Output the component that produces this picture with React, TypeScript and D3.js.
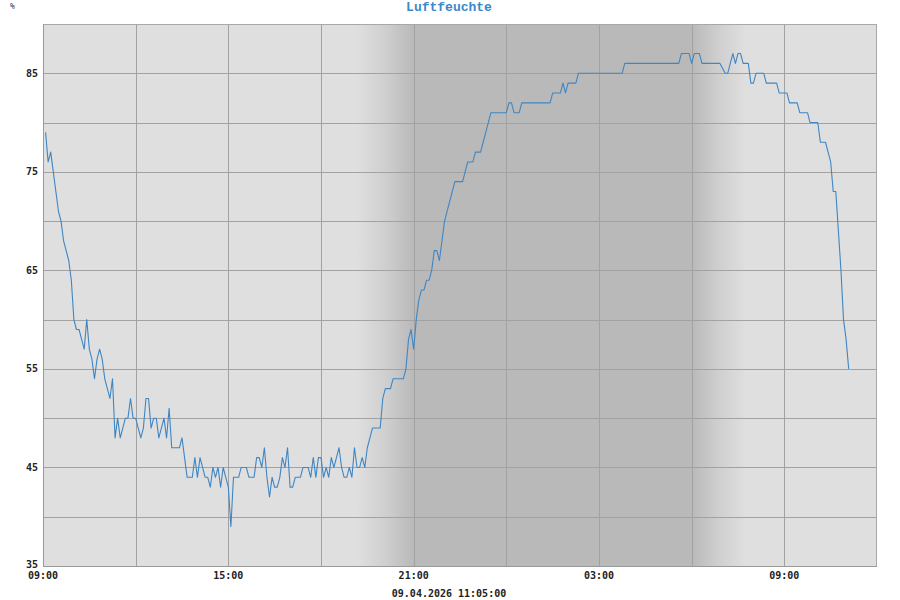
import React from 'react';
import * as d3 from 'd3';

// ---- data ----
const startTime = new Date(2026, 3, 8, 9, 0);
const endTime = new Date(2026, 3, 9, 12, 0);
const minutesAfterStart = [
  5, 10, 15, 20, 25, 30, 35, 40, 45, 50, 55, 60, 65, 70, 75, 80, 85, 90, 95, 100,
  105, 110, 115, 120, 125, 130, 135, 140, 145, 150, 155, 160, 165, 170, 175, 180, 185, 190, 195, 200,
  205, 210, 215, 220, 225, 230, 235, 240, 245, 250, 265, 270, 275, 280, 290, 295, 300, 305, 310, 315,
  320, 325, 330, 335, 340, 345, 350, 355, 360, 365, 370, 380, 385, 395, 400, 410, 415, 420, 425, 430,
  435, 440, 445, 450, 455, 460, 465, 470, 475, 480, 485, 490, 500, 505, 515, 520, 525, 530, 535, 540,
  545, 550, 555, 560, 565, 570, 575, 580, 585, 590, 595, 600, 605, 610, 615, 620, 625, 630, 635, 640,
  655, 660, 665, 675, 680, 700, 705, 710, 715, 720, 725, 730, 735, 740, 745, 750, 755, 760, 765, 770,
  775, 780, 785, 790, 795, 800, 815, 820, 825, 835, 840, 850, 855, 860, 865, 870, 900, 905, 910, 915,
  925, 930, 985, 990, 1005, 1010, 1015, 1020, 1035, 1040, 1125, 1130, 1235, 1240, 1255, 1260, 1265, 1275, 1280, 1315,
  1325, 1330, 1335, 1340, 1345, 1350, 1355, 1360, 1370, 1375, 1380, 1385, 1400, 1405, 1425, 1430, 1445, 1450, 1465, 1470,
  1485, 1490, 1505, 1510, 1520, 1525, 1530, 1535, 1540, 1545, 1550, 1555, 1560, 1565,
];
const humidity = [
  79, 76, 77, 75, 73, 71, 70, 68, 67, 66, 64, 60, 59, 59, 58, 57, 60, 57, 56, 54,
  56, 57, 56, 54, 53, 52, 54, 48, 50, 48, 49, 50, 50, 52, 50, 50, 49, 48, 49, 52,
  52, 49, 50, 50, 48, 49, 50, 48, 51, 47, 47, 48, 46, 44, 44, 46, 44, 46, 45, 44,
  44, 43, 45, 44, 45, 43, 45, 44, 43, 39, 44, 44, 45, 45, 44, 44, 46, 46, 45, 47,
  44, 42, 44, 43, 43, 44, 46, 45, 47, 43, 43, 44, 44, 45, 45, 44, 46, 44, 46, 46,
  44, 45, 44, 46, 45, 46, 47, 45, 44, 44, 45, 44, 47, 45, 45, 46, 45, 47, 48, 49,
  49, 52, 53, 53, 54, 54, 55, 58, 59, 57, 60, 62, 63, 63, 64, 64, 65, 67, 67, 66,
  68, 70, 71, 72, 73, 74, 74, 75, 76, 76, 77, 77, 78, 79, 80, 81, 81, 82, 82, 81,
  81, 82, 82, 83, 83, 84, 83, 84, 84, 85, 85, 86, 86, 87, 87, 86, 87, 87, 86, 86,
  85, 85, 86, 87, 86, 87, 87, 86, 86, 84, 84, 85, 85, 84, 84, 83, 83, 82, 82, 81,
  81, 80, 80, 78, 78, 77, 76, 73, 73, 69, 65, 60, 58, 55,
];
const yDomain = [35, 90];
const yLabelValues = [35, 45, 55, 65, 75, 85];
const yGridValues = [40, 45, 50, 55, 60, 65, 70, 75, 80, 85, 90];
const xGridHours = [3, 6, 9, 12, 15, 18, 21, 24];
const xLabelHours = [0, 6, 12, 18, 24];
// dusk fade start, full dark, dark end, dawn fade end (minutes after start)
const nightMinutes = [610, 720, 1260, 1365];
const titleText = 'Luftfeuchte';
const unitText = '%';
const footerText = '09.04.2026 11:05:00';

export default function App() {
  const W = 900, H = 600;
  const left = 43, right = 877, top = 24, bottom = 566;
  const x = d3.scaleTime().domain([startTime, endTime]).range([left, right]);
  const y = d3.scaleLinear().domain(yDomain).range([bottom, top]);
  const t = (m: number) => d3.timeMinute.offset(startTime, m);
  const data = minutesAfterStart.map((m, i) => ({ d: t(m), v: humidity[i] }));
  const line = d3.line<{ d: Date; v: number }>().x(p => x(p.d)).y(p => y(p.v));
  const fmt = d3.timeFormat('%H:%M');
  const n0 = x(t(nightMinutes[0])), n1 = x(t(nightMinutes[1])), n2 = x(t(nightMinutes[2])), n3 = x(t(nightMinutes[3]));
  const span = n3 - n0;
  const light = '#dfdfdf', dark = '#b9b9b9';
  const mono = "'DejaVu Sans Mono', 'Liberation Mono', monospace";
  return (
    <svg width={W} height={H} style={{ position: 'absolute', left: 0, top: 0 }} xmlns="http://www.w3.org/2000/svg">
      <defs>
        <linearGradient id="night" gradientUnits="userSpaceOnUse" x1={n0} x2={n3} y1={0} y2={0}>
          <stop offset={0} stopColor={light} />
          <stop offset={((n1 - n0) * 0.5) / span} stopColor="#cfcfcf" />
          <stop offset={(n1 - n0) / span} stopColor={dark} />
          <stop offset={(n2 - n0) / span} stopColor={dark} />
          <stop offset={(n2 - n0 + (n3 - n2) * 0.5) / span} stopColor="#cfcfcf" />
          <stop offset={1} stopColor={light} />
        </linearGradient>
      </defs>
      <rect x={0} y={0} width={W} height={H} fill="#ffffff" />
      <rect x={left} y={top} width={right - left} height={bottom - top} fill={light} />
      <rect x={n0} y={top} width={n3 - n0} height={bottom - top} fill="url(#night)" />
      {yGridValues.map(v => (
        <line key={'hy' + v} x1={left} x2={right} y1={Math.round(y(v)) + 0.5} y2={Math.round(y(v)) + 0.5} stroke="#a2a2a2" strokeWidth={1} />
      ))}
      {xGridHours.map(h => {
        const xx = Math.round(x(d3.timeHour.offset(startTime, h))) + 0.5;
        return <line key={'vx' + h} x1={xx} x2={xx} y1={top} y2={bottom} stroke="#a2a2a2" strokeWidth={1} />;
      })}
      <rect x={left + 0.5} y={top + 0.5} width={right - left - 1} height={bottom - top} fill="none" stroke="#a8a8a8" strokeWidth={1} />
      <line x1={left + 0.5} x2={left + 0.5} y1={top} y2={bottom} stroke="#999" />
      <line x1={left} x2={right} y1={bottom + 0.5} y2={bottom + 0.5} stroke="#999" />
      <path d={line(data) || ''} fill="none" stroke="#3f86c4" strokeWidth={1.1} strokeLinejoin="round" />
      {yLabelValues.map(v => (
        <text key={'yl' + v} x={38} y={v === yDomain[0] ? y(v) + 2 : y(v) + 3.5} textAnchor="end" fontFamily={mono} fontSize={10} fontWeight="bold" fill="#222">{v}</text>
      ))}
      {xLabelHours.map(h => {
        const d = d3.timeHour.offset(startTime, h);
        return <text key={'xl' + h} x={x(d)} y={579} textAnchor="middle" fontFamily={mono} fontSize={10} fontWeight="bold" fill="#222">{fmt(d)}</text>;
      })}
      <text x={10} y={9} fontFamily={mono} fontSize={8} fill="#333">{unitText}</text>
      <text x={449} y={11} textAnchor="middle" fontFamily="'Liberation Mono', monospace" fontSize={13} fontWeight="bold" fill="#3a88c8">{titleText}</text>
      <text x={449} y={597} textAnchor="middle" fontFamily={mono} fontSize={10} fontWeight="bold" fill="#222">{footerText}</text>
    </svg>
  );
}
